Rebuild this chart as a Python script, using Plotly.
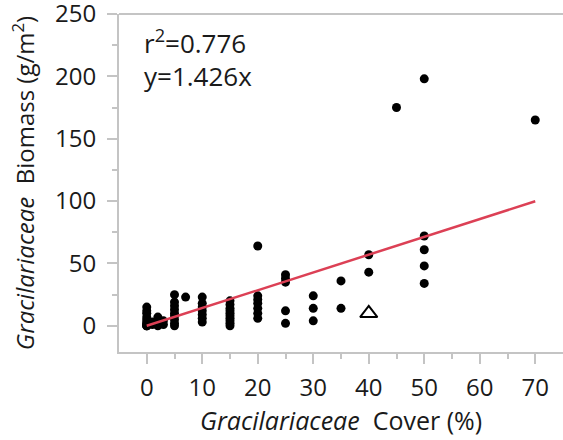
import plotly.graph_objects as go

# Data
cover = [0,0,0,0,0,0,0,0,0,0,0,
         1,1,
         2,2,2,2,
         3,3,
         5,5,5,5,5,5,5,5,5,
         7,
         10,10,10,10,10,10,10,
         15,15,15,15,15,15,15,15,15,15,
         20,20,20,20,20,20,20,
         25,25,25,25,25,
         30,30,30,
         35,35,
         40,40,
         45,
         50,50,50,50,50,
         70]
biomass = [0,0,0,1,2,3,5,7,10,12,15,
           1,3,
           0,2,5,7,
           1,4,
           0,2,5,8,10,13,16,19,25,
           23,
           3,6,9,12,15,18,23,
           0,2,4,6,8,10,12,14,17,20,
           6,10,14,18,21,24,64,
           2,12,35,38,41,
           4,14,24,
           14,36,
           43,57,
           175,
           34,48,61,72,198,
           165]
outlier_cover = [40]
outlier_biomass = [10]

slope = 1.426
r2 = 0.776
fit_x = [0, 70]
fit_y = [slope * v for v in fit_x]

x_ticks = [0, 10, 20, 30, 40, 50, 60, 70]
y_ticks = [0, 50, 100, 150, 200, 250]

FONT = "Open Sans"
AXC = "#c4c4c4"

fig = go.Figure()
fig.add_trace(go.Scatter(x=cover, y=biomass, mode="markers",
                         marker=dict(color="black", size=9), showlegend=False))
fig.add_trace(go.Scatter(x=fit_x, y=fit_y, mode="lines",
                         line=dict(color="#dc4055", width=2.5), showlegend=False))
fig.add_trace(go.Scatter(x=outlier_cover, y=outlier_biomass, mode="markers",
                         marker=dict(symbol="triangle-up-open", color="black", size=15,
                                     line=dict(width=2, color="black")),
                         showlegend=False))

fig.update_layout(
    width=563, height=440, autosize=False,
    margin=dict(l=119, r=0, t=14, b=88, pad=0),
    plot_bgcolor="white", paper_bgcolor="white",
    font=dict(family=FONT, color="#1a1a1a", size=24),
    xaxis=dict(range=[-5, 75], tickvals=x_ticks, showgrid=False, zeroline=False,
               showline=True, linecolor=AXC, linewidth=2, mirror=False,
               ticks="outside", ticklen=10, tickwidth=2, tickcolor=AXC,
               minor=dict(tickvals=[5, 15, 25, 35, 45, 55, 65], ticks="outside", ticklen=5,
                          tickwidth=2, tickcolor=AXC, showgrid=False),
               tickfont=dict(size=24), ticklabelstandoff=3, automargin=False,
               title=dict(text="<i>Gracilariaceae</i>  Cover (%)", font=dict(size=25), standoff=4)),
    yaxis=dict(range=[-21, 250], tickvals=y_ticks, showgrid=False, zeroline=False,
               showline=True, linecolor=AXC, linewidth=2, mirror=False,
               ticks="outside", ticklen=10, tickwidth=2, tickcolor=AXC,
               minor=dict(tickvals=[25, 75, 125, 175, 225], ticks="outside", ticklen=5,
                          tickwidth=2, tickcolor=AXC, showgrid=False),
               tickfont=dict(size=24), ticklabelstandoff=6, ticklabeloverflow="allow",
               automargin=False,
               title=dict(text="<i>Gracilariaceae</i>  Biomass (g/m<sup>2</sup>)", font=dict(size=24), standoff=14)),
    shapes=[dict(type="line", xref="paper", yref="paper", x0=0, x1=1, y0=1, y1=1,
                 line=dict(color=AXC, width=2))],
    annotations=[
        dict(text=f"r<sup>2</sup>={r2}", xref="paper", yref="paper", x=0.052, y=0.918,
             xanchor="left", yanchor="middle", showarrow=False, font=dict(size=26)),
        dict(text=f"y={slope}x", xref="paper", yref="paper", x=0.052, y=0.818,
             xanchor="left", yanchor="middle", showarrow=False, font=dict(size=26)),
    ],
)

fig.write_html("out.html", config={"displayModeBar": False, "responsive": False},
               post_script=("document.documentElement.style.overflow='hidden';"
                            "document.body.style.margin='0';document.body.style.overflow='hidden';"))
